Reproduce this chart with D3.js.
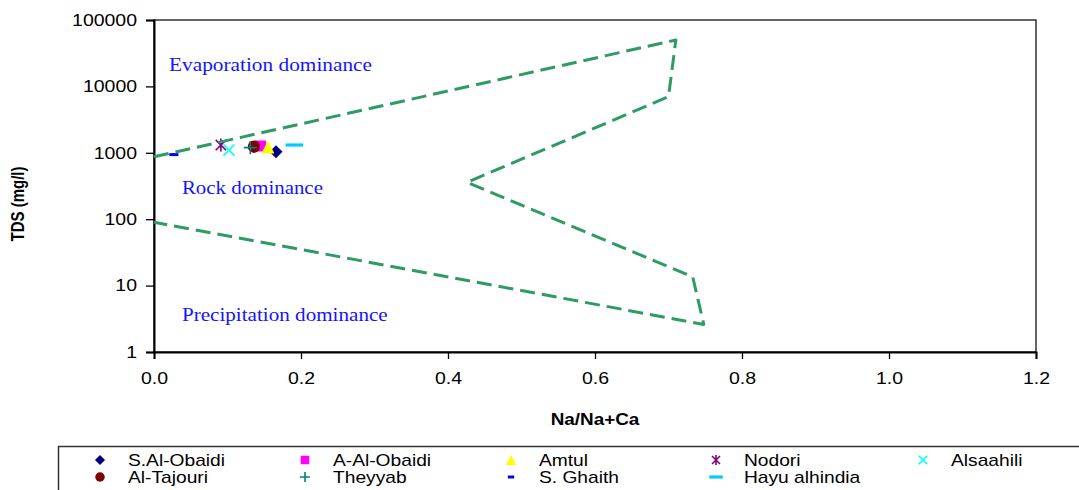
<!DOCTYPE html>
<html>
<head>
<meta charset="utf-8">
<script src="https://cdn.jsdelivr.net/npm/d3@7"></script>
<style>
  body { margin: 0; background: #fff; }
  svg { display: block; }
</style>
</head>
<body>
<div id="chart"></div>
<script>
// sample data
var samples = ["S.Al-Obaidi", "A-Al-Obaidi", "Amtul", "Nodori", "Alsaahili",
               "Al-Tajouri", "Theyyab", "S. Ghaith", "Hayu alhindia"];
var naRatio = [0.166, 0.145, 0.155, 0.091, 0.102, 0.136, 0.131, 0.027, 0.191];
var tds     = [1040, 1265, 1220, 1310, 1100, 1235, 1195, 940, 1310];
var symbols = ["diamond", "square", "triangle", "star", "x", "circle", "plus", "dash", "longdash"];
var colors  = ["#000080", "#ff00ff", "#ffff00", "#800080", "#00ffff",
               "#800000", "#008080", "#0000ff", "#00ccff"];

// Gibbs boundary (dashed outline)
var gibbsX   = [0, 0.71, 0.70, 0.426, 0.733, 0.748, 0];
var gibbsTDS = [870, 50000, 7000, 360, 13.5, 2.6, 90];

var xTicks = [0, 0.2, 0.4, 0.6, 0.8, 1.0, 1.2];
var yTicks = [1, 10, 100, 1000, 10000, 100000];

var zones = [
  {label: "Evaporation dominance", x: 0.0205, y: 17000, len: 203},
  {label: "Rock dominance", x: 0.038, y: 240, len: 141},
  {label: "Precipitation dominance", x: 0.038, y: 2.95, len: 206}
];

var width = 1079, height = 490,
    margin = {top: 20, right: 43, bottom: 138, left: 154},
    innerWidth = width - margin.left - margin.right,
    innerHeight = height - margin.top - margin.bottom,
    sans = "'Liberation Sans', Arial, sans-serif",
    stretchK = 1.18;

var svg = d3.select("#chart").append("svg")
    .attr("width", width)
    .attr("height", height)
    .style("font-family", sans);

var g = svg.append("g")
    .attr("transform", "translate(" + margin.left + "," + margin.top + ")");

var xScale = d3.scaleLinear().domain([0, 1.2]).range([0, innerWidth]);
var yScale = d3.scaleLog().domain([1, 100000]).range([innerHeight, 0]);

// widen text sideways round its anchor, the picture's fonts are stretched
function stretch(sel, k) {
  sel.each(function () {
    var t = d3.select(this),
        x = +t.attr("x") || 0;
    t.attr("transform", "translate(" + x + ",0) scale(" + k + ",1) translate(" + (-x) + ",0)");
  });
}

// frame
g.append("rect")
    .attr("width", innerWidth)
    .attr("height", innerHeight)
    .attr("fill", "none")
    .attr("stroke", "#000")
    .attr("stroke-width", 1.2);

// axes
g.append("g")
    .attr("class", "x axis")
    .attr("transform", "translate(0," + innerHeight + ")")
    .call(d3.axisBottom(xScale).tickValues(xTicks).tickFormat(d3.format(".1f"))
      .tickSize(7).tickPadding(13));

g.append("g")
    .attr("class", "y axis")
    .call(d3.axisLeft(yScale).tickValues(yTicks).tickFormat(d3.format("d"))
      .tickSize(8).tickPadding(9));

g.selectAll(".axis .domain").attr("stroke", "#000").attr("stroke-width", 2);
g.selectAll(".axis .tick line").attr("stroke", "#000").attr("stroke-width", 1.3);
g.selectAll(".axis text")
    .attr("font-size", "16.5px")
    .attr("fill", "#000")
    .attr("font-family", sans)
    .call(stretch, stretchK);

// marker shapes
function marker(sel, type, color, r) {
  if (type === "diamond") {
    sel.append("path").attr("d", "M0," + (-r) + "L" + r + ",0L0," + r + "L" + (-r) + ",0Z")
      .attr("fill", color);
  } else if (type === "square") {
    sel.append("rect").attr("x", -r * 0.85).attr("y", -r * 0.85)
      .attr("width", r * 1.7).attr("height", r * 1.7).attr("fill", color);
  } else if (type === "triangle") {
    sel.append("path").attr("d", "M0," + (-r) + "L" + r + "," + r + "L" + (-r) + "," + r + "Z")
      .attr("fill", color);
  } else if (type === "circle") {
    sel.append("circle").attr("r", r * 0.95).attr("fill", color);
  } else if (type === "plus") {
    sel.append("path").attr("d", "M" + (-r) + ",0H" + r + "M0," + (-r) + "V" + r)
      .attr("stroke", color).attr("stroke-width", 1.6);
  } else if (type === "x") {
    var a = r * 0.85;
    sel.append("path").attr("d", "M" + (-a) + "," + (-a) + "L" + a + "," + a + "M" + a + "," + (-a) + "L" + (-a) + "," + a)
      .attr("stroke", color).attr("stroke-width", 1.6);
  } else if (type === "star") {
    var b = r * 0.8;
    sel.append("path").attr("d", "M" + (-b) + "," + (-b) + "L" + b + "," + b + "M" + b + "," + (-b) + "L" + (-b) + "," + b +
        "M0," + (-r) + "V" + r)
      .attr("stroke", color).attr("stroke-width", 1.6);
  } else if (type === "dash") {
    sel.append("rect").attr("x", -r * 0.7).attr("y", -1.5).attr("width", r * 1.4).attr("height", 3)
      .attr("fill", color);
  } else if (type === "longdash") {
    sel.append("rect").attr("x", -r * 1.35).attr("y", -1.6).attr("width", r * 2.7).attr("height", 3.2)
      .attr("fill", color);
  }
}

// points
samples.forEach(function (name, i) {
  g.append("g")
      .attr("class", "point")
      .attr("transform", "translate(" + xScale(naRatio[i]) + "," + yScale(tds[i]) + ")")
      .call(marker, symbols[i], colors[i], 6.5);
});

// Gibbs outline
var line = d3.line()
    .x(function (d) { return xScale(d[0]); })
    .y(function (d) { return yScale(d[1]); });

g.append("path")
    .datum(d3.zip(gibbsX, gibbsTDS))
    .attr("d", line)
    .attr("fill", "none")
    .attr("stroke", "#2e9a64")
    .attr("stroke-width", 3)
    .attr("stroke-dasharray", "15,7")
    .attr("stroke-linejoin", "round");

// zone labels, widened to the width they have in the figure
g.selectAll(".zone")
    .data(zones)
  .enter().append("text")
    .attr("class", "zone")
    .attr("x", function (d) { return xScale(d.x); })
    .attr("y", function (d) { return yScale(d.y); })
    .style("font-family", "'Liberation Serif', 'Times New Roman', serif")
    .attr("font-size", "18px")
    .attr("fill", "#1414ff")
    .text(function (d) { return d.label; })
    .each(function (d) {
      d3.select(this).call(stretch, d.len / this.getComputedTextLength());
    });

// axis titles
svg.append("text")
    .attr("x", margin.left + innerWidth / 2)
    .attr("y", 425)
    .attr("text-anchor", "middle")
    .attr("font-size", "16px")
    .attr("font-weight", "bold")
    .text("Na/Na+Ca")
    .call(stretch, stretchK);

svg.append("text")
    .attr("transform", "translate(24,204) scale(1.25,1) rotate(-90)")
    .attr("text-anchor", "middle")
    .attr("font-size", "15px")
    .attr("font-weight", "bold")
    .text("TDS (mg/l)");

// legend (its box runs past the right and bottom edge of the picture)
var legend = svg.append("g").attr("class", "legend");
legend.append("path")
    .attr("d", "M" + width + ",446.5H58.5V" + height)
    .attr("fill", "none")
    .attr("stroke", "#333")
    .attr("stroke-width", 1.5);

var colX = [100, 305, 511, 716, 923];
var rowY = [460, 477];

samples.forEach(function (name, i) {
  var cx = colX[i % 5], cy = rowY[Math.floor(i / 5)];
  var item = legend.append("g").attr("transform", "translate(" + cx + "," + cy + ")");
  item.call(marker, symbols[i], colors[i], symbols[i] === "dash" ? 4.5 : 5);
  item.append("text")
      .attr("x", 28)
      .attr("y", 5.5)
      .attr("font-size", "16px")
      .attr("fill", "#000")
      .text(name)
      .call(stretch, 1.2);
});
</script>
</body>
</html>
